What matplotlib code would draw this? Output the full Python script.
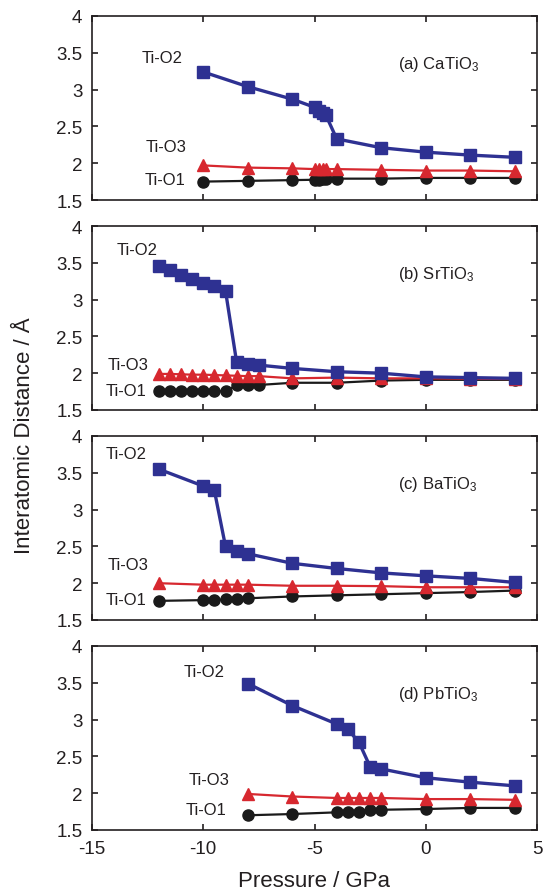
import matplotlib
matplotlib.use('Agg')
import matplotlib.pyplot as plt
from matplotlib.ticker import FormatStrFormatter

plt.rcParams['font.family'] = ['Liberation Sans', 'DejaVu Sans']
plt.rcParams['mathtext.fontset'] = 'custom'
plt.rcParams['mathtext.rm'] = 'Liberation Sans'
plt.rcParams['mathtext.it'] = 'Liberation Sans'
plt.rcParams['mathtext.bf'] = 'Liberation Sans'
plt.rcParams['mathtext.default'] = 'regular'
plt.rcParams['axes.unicode_minus'] = False

# data (pressure in GPa, distance in Angstrom)

ca_p = [-10, -8, -6, -5, -4.8, -4.6, -4.5, -4, -2, 0, 2, 4]
ca_o2 = [3.24, 3.04, 2.87, 2.76, 2.71, 2.68, 2.66, 2.33, 2.21, 2.15, 2.11, 2.08]
ca_o3 = [1.97, 1.94, 1.93, 1.92, 1.92, 1.92, 1.92, 1.92, 1.91, 1.90, 1.90, 1.89]
ca_o1 = [1.75, 1.76, 1.77, 1.775, 1.775, 1.78, 1.78, 1.79, 1.79, 1.80, 1.80, 1.80]

sr_p = [-12, -11.5, -11, -10.5, -10, -9.5, -9, -8.5, -8, -7.5, -6, -4, -2, 0, 2, 4]
sr_o2 = [3.46, 3.40, 3.34, 3.28, 3.22, 3.18, 3.12, 2.15, 2.13, 2.11, 2.065, 2.02, 2.0, 1.95, 1.94, 1.93]
sr_o3 = [1.99, 1.99, 1.985, 1.98, 1.98, 1.975, 1.97, 1.965, 1.96, 1.96, 1.93, 1.94, 1.93, 1.93, 1.925, 1.92]
sr_o1 = [1.755, 1.755, 1.755, 1.755, 1.755, 1.755, 1.755, 1.835, 1.84, 1.84, 1.87, 1.87, 1.90, 1.91, 1.91, 1.91]

ba_p = [-12, -10, -9.5, -9, -8.5, -8, -6, -4, -2, 0, 2, 4]
ba_o2 = [3.55, 3.32, 3.26, 2.50, 2.44, 2.40, 2.27, 2.20, 2.14, 2.10, 2.065, 2.01]
ba_o3 = [2.00, 1.98, 1.98, 1.98, 1.98, 1.98, 1.965, 1.965, 1.96, 1.945, 1.945, 1.945]
ba_o1 = [1.76, 1.77, 1.77, 1.78, 1.78, 1.795, 1.82, 1.835, 1.85, 1.865, 1.88, 1.90]

pb_p = [-8, -6, -4, -3.5, -3, -2.5, -2, 0, 2, 4]
pb_o2 = [3.49, 3.19, 2.94, 2.87, 2.69, 2.36, 2.33, 2.21, 2.15, 2.10]
pb_o3 = [1.99, 1.955, 1.935, 1.935, 1.935, 1.935, 1.935, 1.92, 1.92, 1.91]
pb_o1 = [1.70, 1.717, 1.74, 1.74, 1.75, 1.775, 1.775, 1.785, 1.80, 1.80]

panels = [
    ('(a) CaTiO$_3$', ca_p, ca_o2, ca_o3, ca_o1),
    ('(b) SrTiO$_3$', sr_p, sr_o2, sr_o3, sr_o1),
    ('(c) BaTiO$_3$', ba_p, ba_o2, ba_o3, ba_o1),
    ('(d) PbTiO$_3$', pb_p, pb_o2, pb_o3, pb_o1),
]

# label positions (x, y) for Ti-O2, Ti-O3, Ti-O1 in each panel
label_pos = [
    [(-12.75, 3.43), (-12.6, 2.23), (-12.65, 1.78)],
    [(-13.9, 3.68), (-14.3, 2.12), (-14.4, 1.76)],
    [(-14.4, 3.76), (-14.3, 2.26), (-14.4, 1.78)],
    [(-10.9, 3.66), (-10.65, 2.19), (-10.8, 1.78)],
]

blue = '#2e3192'
red = '#d7282f'
black = '#1a1a1a'
txt = '#231f20'

fig = plt.figure(figsize=(5.48, 8.95), dpi=100)

left = 92 / 548
width = (537 - 92) / 548
tops = [17, 227, 437, 647]
h = 184

for i, (name, p, o2, o3, o1) in enumerate(panels):
    bottom = 1 - (tops[i] + h) / 895
    ax = fig.add_axes([left, bottom, width, h / 895])

    ax.plot(p, o1, color=black, lw=1.6, marker='o', ms=8, zorder=3)
    ax.plot(p, o3, color=red, lw=1.6, marker='^', ms=8.5, zorder=4)
    ax.plot(p, o2, color=blue, lw=2.4, marker='s', ms=8.5, zorder=5)

    ax.set_xlim(-15, 5)
    ax.set_ylim(1.5, 4)
    ax.set_xticks([-15, -10, -5, 0, 5])
    ax.set_yticks([1.5, 2, 2.5, 3, 3.5, 4])
    ax.yaxis.set_major_formatter(FormatStrFormatter('%g'))
    ax.tick_params(direction='in', top=True, right=True, length=4.5, width=1.2,
                   labelsize=13.5, pad=7, colors=txt)
    for s in ax.spines.values():
        s.set_linewidth(1.2)
        s.set_color(txt)
    if i < 3:
        ax.tick_params(labelbottom=False)

    for (lx, ly), lab in zip(label_pos[i], ['Ti-O2', 'Ti-O3', 'Ti-O1']):
        ax.text(lx, ly, lab, fontsize=12, color=txt, ha='left', va='center')
    ax.text(-1.25, 3.35, name, fontsize=12, color=txt, ha='left', va='center')

fig.text(314 / 548, 1 - 882 / 895, 'Pressure / GPa', fontsize=16, color=txt,
         ha='center', va='center')
fig.text(25 / 548, 1 - 436 / 895, 'Interatomic Distance / Å', fontsize=16,
         color=txt, ha='center', va='center', rotation=90)

plt.savefig('out.png', dpi=100)
